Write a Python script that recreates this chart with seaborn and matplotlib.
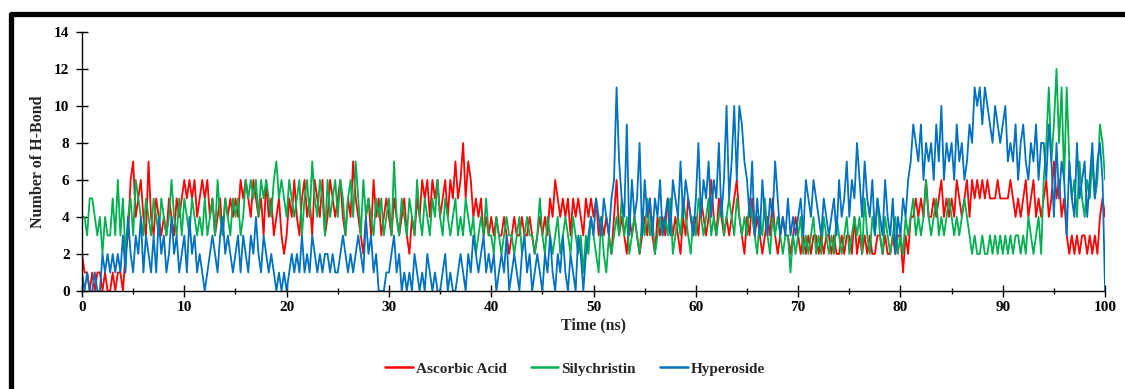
import numpy as np
import pandas as pd
import seaborn as sns
import matplotlib
matplotlib.use("Agg")
import matplotlib.pyplot as plt
from matplotlib.patches import Rectangle
from matplotlib.ticker import MultipleLocator

# H-bond counts, one value every 0.25 ns, one row per 10 ns
ascorbic = [
    2,1,1,0, 1,0,1,1, 0,1,0,0, 1,0,1,1, 0,2,3,6, 7,4,5,6, 4,3,7,4, 3,5,4,3, 4,3,5,4, 3,5,4,5,
    6,5,6,5, 6,4,5,6, 5,6,4,5, 3,4,5,3, 5,4,5,4, 5,4,6,5, 6,5,4,6, 5,4,5,3, 6,4,5,3, 4,5,3,2,
    3,5,4,6, 4,3,5,6, 4,5,3,6, 5,4,6,3, 4,6,5,4, 5,6,4,3, 5,4,7,5, 4,3,2,4, 5,3,6,4, 5,3,4,5,
    4,3,5,4, 3,4,5,3, 2,4,3,5, 4,6,5,6, 4,6,5,6, 4,5,6,4, 6,5,7,5, 6,8,5,7, 6,4,5,4, 5,3,4,3,
    4,3,4,3, 3,4,3,2, 3,4,3,3, 4,3,3,4, 3,2,3,4, 3,4,3,5, 4,6,5,4, 5,4,5,3, 5,4,5,4, 3,5,4,5,
    4,5,3,4, 3,4,3,2, 4,6,3,4, 3,2,4,3, 4,3,2,3, 4,3,5,3, 2,4,3,4, 3,5,4,3, 4,3,2,4, 3,5,4,3,
    4,3,5,4, 3,4,6,4, 3,5,4,3, 4,3,4,5, 6,4,3,2, 4,3,5,3, 4,3,2,3, 4,3,5,3, 2,3,4,3, 3,2,3,4,
    3,2,3,2, 3,2,3,3, 2,3,2,3, 3,2,3,2, 2,3,2,3, 3,2,4,2, 3,2,3,2, 3,2,2,3, 3,2,3,2, 2,3,2,3,
    3,1,3,2, 4,4,5,4, 5,4,6,4, 4,5,4,5, 6,4,5,4, 5,4,6,5, 4,5,6,4, 6,5,6,5, 6,5,6,5, 5,5,6,5,
    5,5,5,6, 5,4,5,4, 5,6,4,5, 6,4,5,4, 5,6,4,5, 7,5,6,4, 5,3,2,3, 2,3,2,3, 3,2,3,2, 3,2,4,5,
    4,
]
silychristin = [
    4,4,3,5, 5,4,3,4, 2,4,3,3, 5,3,6,3, 5,2,4,5, 3,6,5,4, 3,5,4,3, 5,4,3,5, 4,3,4,6, 4,3,5,3,
    5,4,3,5, 4,3,4,3, 5,3,4,5, 3,6,4,3, 5,4,3,5, 4,5,3,4, 6,5,6,5, 6,4,6,5, 6,5,4,6, 7,5,6,5,
    4,6,5,4, 5,6,3,5, 6,4,7,5, 4,6,5,3, 6,4,5,6, 4,6,5,3, 5,6,4,7, 5,3,6,4, 5,4,3,5, 4,5,3,4,
    5,3,7,4, 3,5,4,3, 5,4,3,6, 4,3,5,4, 3,5,4,6, 4,3,5,4, 3,4,5,3, 4,3,5,4, 3,4,2,3, 4,3,5,3,
    3,2,4,3, 2,3,4,3, 3,2,3,4, 2,3,4,3, 3,2,3,5, 3,2,4,3, 2,3,4,2, 3,4,3,2, 4,3,2,3, 1,3,2,4,
    3,2,1,4, 2,1,3,2, 3,4,3,5, 3,4,2,3, 4,3,2,4, 3,5,3,4, 2,3,4,3, 4,3,5,2, 3,4,3,5, 4,3,2,4,
    3,5,4,3, 4,5,3,4, 3,4,5,3, 4,5,4,3, 5,4,3,4, 3,5,4,3, 2,4,3,5, 3,2,4,3, 4,3,2,3, 3,1,3,2,
    3,4,2,3, 2,3,4,2, 3,2,4,3, 2,3,2,4, 3,2,3,4, 2,3,4,3, 4,2,5,3, 2,4,3,5, 3,2,4,3, 2,3,4,2,
    3,2,4,3, 4,5,3,4, 3,4,6,4, 3,4,5,3, 4,3,4,5, 4,3,4,3, 4,5,4,3, 2,3,2,2, 3,2,2,3, 2,3,2,3,
    2,3,2,3, 2,3,3,2, 3,2,4,3, 2,3,4,2, 6,8,11,7, 9,12,8,11, 6,11,7,5, 6,4,7,5, 4,6,5,7, 5,6,9,8,
    6,
]
hyperoside = [
    1,0,1,0, 0,1,0,0, 2,1,2,1, 2,1,2,1, 3,1,4,2, 1,3,2,4, 1,3,2,1, 3,1,4,2, 3,1,2,4, 2,3,1,2,
    3,1,4,2, 3,1,2,1, 0,1,2,3, 2,1,3,4, 2,3,2,1, 2,3,1,3, 2,1,3,2, 4,2,1,3, 2,1,2,1, 0,1,0,1,
    0,1,2,1, 2,1,3,1, 2,1,3,2, 1,2,1,2, 2,1,2,1, 1,2,3,2, 1,2,1,2, 3,2,1,4, 2,3,1,2, 0,0,0,1,
    1,2,3,1, 2,0,1,0, 1,0,2,1, 0,1,0,2, 1,0,1,0, 0,1,2,0, 1,0,0,1, 2,1,0,2, 1,3,2,1, 2,3,1,2,
    1,2,0,1, 2,1,3,0, 1,2,1,0, 2,3,1,2, 0,1,2,1, 0,2,1,3, 1,0,2,1, 3,1,0,2, 1,0,3,2, 0,2,3,4,
    3,5,4,3, 5,4,3,5, 6,11,7,5, 4,9,3,6, 4,5,8,3, 6,4,5,3, 5,4,6,3, 4,5,3,6, 5,4,7,4, 6,5,4,3,
    5,8,4,6, 5,7,4,6, 5,8,4,6, 10,5,7,10, 6,10,9,7, 6,4,7,3, 5,3,6,4, 3,5,4,7, 5,3,4,3, 5,3,4,3,
    4,5,3,6, 5,4,6,5, 4,3,5,4, 3,4,5,3, 6,4,5,7, 4,6,5,8, 6,4,7,5, 4,6,3,5, 4,3,6,4, 3,5,2,4,
    3,5,4,6, 7,9,8,7, 9,6,8,7, 8,6,9,7, 10,6,8,7, 8,6,9,7, 8,6,7,9, 8,11,10,11, 9,11,10,9, 8,10,9,8,
    9,10,7,8, 7,9,6,8, 9,7,6,8, 7,9,6,8, 8,6,9,7, 4,8,5,7, 6,3,7,5, 4,8,5,6, 7,4,6,8, 5,7,8,6,
    0,
]
series_names = ["Ascorbic Acid", "Silychristin", "Hyperoside"]
colors = ["#FF0000", "#00B050", "#0070C0"]

time_ns = np.arange(len(ascorbic)) * 0.25

frames = []
for name, vals in zip(series_names, [ascorbic, silychristin, hyperoside]):
    frames.append(pd.DataFrame({"Time": time_ns, "HB": vals, "Compound": name}))
df = pd.concat(frames, ignore_index=True)

sns.set_style("white")
plt.rcParams["font.family"] = ["Liberation Serif", "DejaVu Serif"]
plt.rcParams["font.weight"] = "bold"

fig = plt.figure(figsize=(11.25, 3.89), dpi=100)
ax = fig.add_axes([0.0729, 0.252, 0.9094, 0.666])

sns.lineplot(data=df, x="Time", y="HB", hue="Compound", palette=colors,
             linewidth=1.3, ax=ax)

ax.set_xlim(0, 100)
ax.set_ylim(0, 14)
ax.xaxis.set_major_locator(MultipleLocator(10))
ax.xaxis.set_minor_locator(MultipleLocator(5))
ax.yaxis.set_major_locator(MultipleLocator(2))
ax.tick_params(axis="both", which="both", bottom=True, left=True, colors="black")
ax.tick_params(axis="both", which="major", direction="inout", length=8, width=1,
               labelsize=11)
ax.tick_params(axis="x", which="minor", direction="inout", length=4, width=1)
ax.tick_params(axis="y", pad=5)
ax.tick_params(axis="x", pad=3)
for lab in ax.get_xticklabels() + ax.get_yticklabels():
    lab.set_fontweight("bold")

for side in ["top", "right"]:
    ax.spines[side].set_visible(False)
for side in ["left", "bottom"]:
    ax.spines[side].set_color("black")
    ax.spines[side].set_linewidth(1)

ax.set_xlabel("Time (ns)", fontsize=11.5, fontweight="bold", labelpad=3)
ax.set_ylabel("Number of H-Bond", fontsize=11.5, fontweight="bold", labelpad=6)

sns.move_legend(ax, "center", bbox_to_anchor=(0.482, -0.30), ncol=3, frameon=False,
                title=None, fontsize=11, handlelength=1.8, handletextpad=0.2,
                columnspacing=1.6)
for t in ax.get_legend().get_texts():
    t.set_fontweight("bold")
for line in ax.get_legend().get_lines():
    line.set_linewidth(1.8)

# thick black frame around the picture (runs off the right and bottom edges)
frame = Rectangle((10.5 / 1125, -0.2), 1.2, (1 - 13.5 / 389) + 0.2,
                  transform=fig.transFigure, fill=False, edgecolor="black",
                  linewidth=3.8, joinstyle="round", clip_on=False)
fig.patches.append(frame)

fig.savefig("out.png", dpi=100)
